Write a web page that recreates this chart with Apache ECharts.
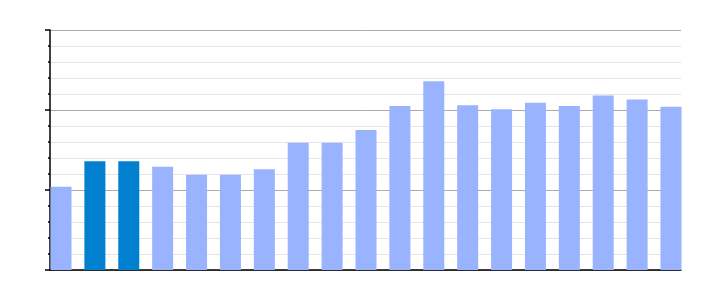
<!DOCTYPE html>
<html>
<head>
<meta charset="utf-8">
<script src="https://cdn.jsdelivr.net/npm/echarts@6/dist/echarts.min.js"></script>
<style>html,body{margin:0;padding:0;background:#fff;}#c{width:710px;height:300px;}</style>
</head>
<body>
<div id="c"></div>
<script>
const categories = [0, 1, 2, 3, 4, 5, 6, 7, 8, 9, 10, 11, 12, 13, 14, 15, 16, 17, 18];
const values = [1.04, 1.36, 1.36, 1.29, 1.19, 1.19, 1.26, 1.59, 1.59, 1.75, 2.05, 2.36, 2.06, 2.01, 2.09, 2.05, 2.18, 2.13, 2.04];
const highlighted = [1, 2];
const yTicks = [0, 1, 2, 3];

const chart = echarts.init(document.getElementById('c'), null, {renderer: 'canvas'});
chart.setOption({
  animation: false,
  backgroundColor: '#ffffff',
  grid: {left: 50, right: 29, top: 30, bottom: 30, containLabel: false},
  xAxis: {
    type: 'value',
    min: -0.3246,
    max: 18.295,
    axisLine: {show: true, onZero: false, lineStyle: {color: '#000', width: 1.5}},
    axisTick: {show: false},
    axisLabel: {show: false},
    splitLine: {show: false}
  },
  yAxis: {
    type: 'value',
    min: yTicks[0],
    max: yTicks[yTicks.length - 1],
    interval: 1,
    axisLine: {show: true, onZero: false, lineStyle: {color: '#000', width: 1.5}},
    axisTick: {show: true, length: 5, lineStyle: {color: '#000', width: 1.5}},
    minorTick: {show: true, splitNumber: 5, length: 2, lineStyle: {color: '#000', width: 1.5}},
    axisLabel: {show: false},
    splitLine: {show: true, lineStyle: {color: '#aaaaaa', width: 1}},
    minorSplitLine: {show: true, lineStyle: {color: '#e5e5e5', width: 1}}
  },
  series: [{
    type: 'bar',
    barWidth: 21,
    data: categories.map((c, i) => ({
      value: [c, values[i]],
      itemStyle: {color: highlighted.includes(i) ? '#0080cf' : '#99b3ff'}
    }))
  }]
});
</script>
</body>
</html>
